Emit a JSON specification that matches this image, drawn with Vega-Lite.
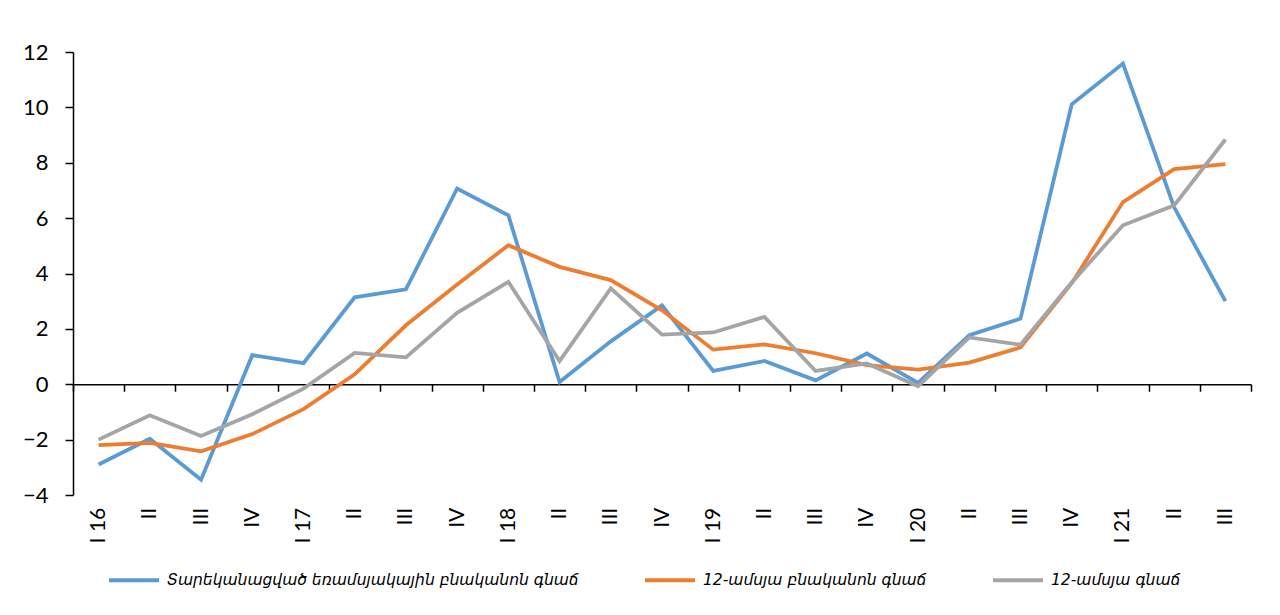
{
  "$schema": "https://vega.github.io/schema/vega-lite/v6.json",
  "autosize": "none",
  "width": 1178,
  "height": 443,
  "padding": {"left": 73, "top": 52, "right": 29, "bottom": 120},
  "background": "white",
  "data": {
    "values": [
      {"t": "I 16", "a": -2.9, "b": -2.2, "c": -2.0},
      {"t": "II 16", "a": -1.97, "b": -2.12, "c": -1.12},
      {"t": "III 16", "a": -3.45, "b": -2.42, "c": -1.87},
      {"t": "IV 16", "a": 1.05, "b": -1.8, "c": -1.08},
      {"t": "I 17", "a": 0.76, "b": -0.9, "c": -0.16},
      {"t": "II 17", "a": 3.14, "b": 0.36, "c": 1.13},
      {"t": "III 17", "a": 3.43, "b": 2.13, "c": 0.97},
      {"t": "IV 17", "a": 7.07, "b": 3.6, "c": 2.58},
      {"t": "I 18", "a": 6.1, "b": 5.02, "c": 3.7},
      {"t": "II 18", "a": 0.08, "b": 4.24, "c": 0.84},
      {"t": "III 18", "a": 1.55, "b": 3.76, "c": 3.46},
      {"t": "IV 18", "a": 2.85, "b": 2.67, "c": 1.79},
      {"t": "I 19", "a": 0.48, "b": 1.25, "c": 1.87},
      {"t": "II 19", "a": 0.84, "b": 1.44, "c": 2.43},
      {"t": "III 19", "a": 0.14, "b": 1.12, "c": 0.48},
      {"t": "IV 19", "a": 1.11, "b": 0.69, "c": 0.75},
      {"t": "I 20", "a": 0.05, "b": 0.53, "c": -0.07},
      {"t": "II 20", "a": 1.77, "b": 0.78, "c": 1.69},
      {"t": "III 20", "a": 2.37, "b": 1.33, "c": 1.43},
      {"t": "IV 20", "a": 10.11, "b": 3.65, "c": 3.68},
      {"t": "I 21", "a": 11.58, "b": 6.58, "c": 5.74},
      {"t": "II 21", "a": 6.39, "b": 7.77, "c": 6.46},
      {"t": "III 21", "a": 3.0, "b": 7.95, "c": 8.84}
    ]
  },
  "transform": [
    {"fold": ["a", "b", "c"], "as": ["k", "v"]}
  ],
  "mark": {"type": "line", "strokeWidth": 3.8},
  "encoding": {
    "x": {
      "field": "t",
      "type": "ordinal",
      "sort": null,
      "scale": {"type": "band", "paddingInner": 0, "paddingOuter": 0},
      "axis": {
        "title": null,
        "orient": "bottom",
        "offset": -110.75,
        "tickBand": "extent",
        "tickSize": 7,
        "tickWidth": 1.5,
        "tickColor": "#000",
        "domainColor": "#000",
        "domainWidth": 1.5,
        "labelAngle": -90,
        "labelPadding": 116,
        "labelFont": "Lato",
        "labelFontSize": 21,
        "labelColor": "#000",
        "labelExpr": "isString(datum.value) ? (slice(datum.value,0,2)=='I ' ? datum.value : split(datum.value,' ')[0]) : ''"
      }
    },
    "y": {
      "field": "v",
      "type": "quantitative",
      "scale": {"domain": [-4, 12], "nice": false, "zero": false},
      "axis": {
        "title": null,
        "values": [-4, -2, 0, 2, 4, 6, 8, 10, 12],
        "grid": false,
        "tickSize": 8,
        "tickWidth": 1.5,
        "tickColor": "#000",
        "domainColor": "#000",
        "domainWidth": 1.5,
        "labelPadding": 17,
        "labelFont": "Lato",
        "labelFontSize": 22,
        "labelColor": "#000"
      }
    },
    "color": {
      "field": "k",
      "type": "nominal",
      "scale": {
        "domain": ["a", "b", "c"],
        "range": ["#5B9BD5", "#ED7D31", "#A5A5A5"]
      },
      "legend": {
        "title": null,
        "orient": "none",
        "direction": "horizontal",
        "legendX": 34,
        "legendY": 501,
        "symbolType": "stroke",
        "symbolSize": 2500,
        "symbolStrokeWidth": 4,
        "labelFont": "DejaVu Sans",
        "labelFontStyle": "italic",
        "labelFontSize": 15.5,
        "labelColor": "#000",
        "labelLimit": 600,
        "labelOffset": 6,
        "columnPadding": 58,
        "labelExpr": "datum.value=='a' ? 'Տարեկանացված եռամսյակային բնականոն գնաճ' : datum.value=='b' ? '12-ամսյա բնականոն գնաճ' : '12-ամսյա գնաճ'"
      }
    }
  },
  "config": {"view": {"stroke": null}}
}
